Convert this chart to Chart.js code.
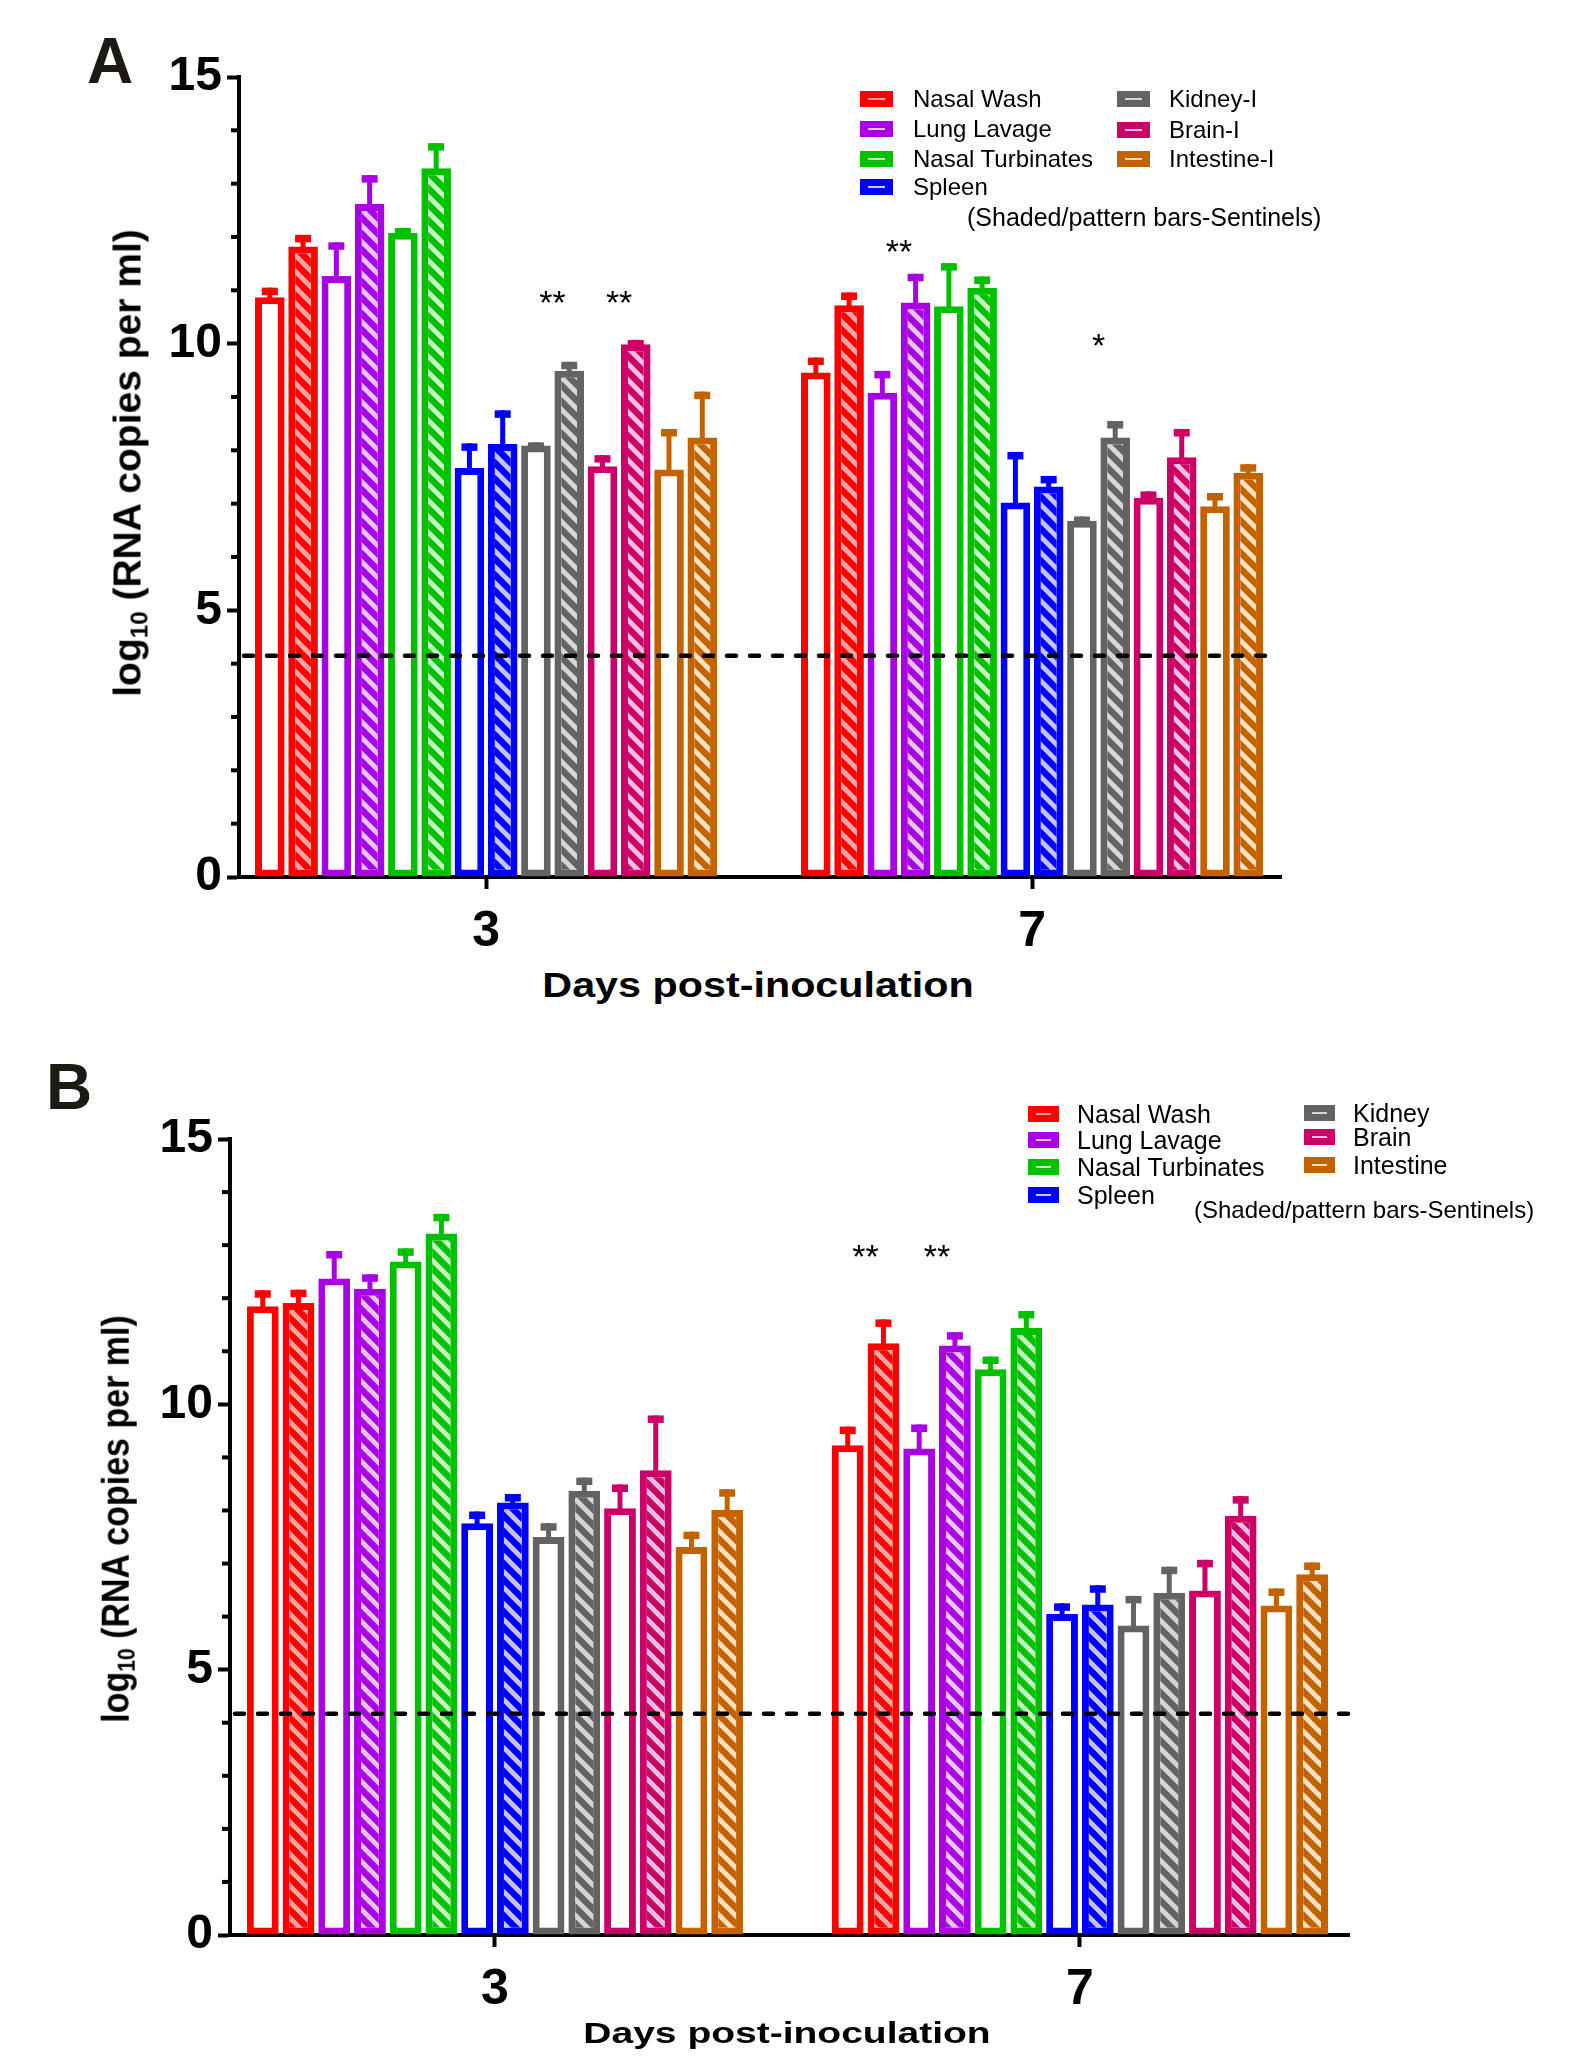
<!DOCTYPE html>
<html lang="en">
<head>
<meta charset="UTF-8" />
<title>Viral RNA in tissues</title>
<script src="https://cdn.jsdelivr.net/npm/chart.js@4"></script>
<style>
  body { margin: 0; background: #fff; font-family: "Liberation Sans", Arial, sans-serif; }
  #page { position: relative; width: 1581px; height: 2056px; overflow: hidden; }
  canvas { position: absolute; left: 0; }
  .txt { position: absolute; line-height: 1; white-space: nowrap; color: #000; }
  .sw { position: absolute; height: 16px; }
  .sw i { position: absolute; left: 8px; right: 8px; top: 7px; height: 2px; }
  sub { font-size: 0.62em; vertical-align: -0.28em; line-height: 0; }
</style>
</head>
<body>
<div id="page">
  <canvas id="chartA" width="1581" height="960" style="top:0"></canvas>
  <canvas id="chartB" width="1581" height="960" style="top:1060px"></canvas>
</div>

<script>
  const organs = ['Nasal Wash', 'Lung Lavage', 'Nasal Turbinates', 'Spleen', 'Kidney', 'Brain', 'Intestine'];
  const days = [3, 7];

  // Panel A - log10 RNA copies per ml, mean and SEM, same order as organs
  const aInoc3 = [10.87, 11.27, 12.08, 7.67, 8.09, 7.70, 7.64];
  const aInoc3Sem = [0.18, 0.63, 0.09, 0.46, 0.06, 0.21, 0.76];
  const aSent3 = [11.82, 12.62, 13.29, 8.12, 9.49, 9.99, 8.24];
  const aSent3Sem = [0.22, 0.54, 0.47, 0.63, 0.17, 0.08, 0.86];
  const aInoc7 = [9.46, 9.08, 10.70, 7.02, 6.68, 7.11, 6.95];
  const aInoc7Sem = [0.28, 0.41, 0.81, 0.95, 0.08, 0.12, 0.25];
  const aSent7 = [10.72, 10.77, 11.05, 7.32, 8.24, 7.87, 7.58];
  const aSent7Sem = [0.24, 0.54, 0.21, 0.20, 0.31, 0.53, 0.16];
  const aLod = 4.15;
  // [day, organ index, marker, level]
  const aStars = [[3, 4, '**', 10.93], [3, 5, '**', 10.93], [7, 1, '**', 11.89], [7, 4, '*', 10.13]];
  const aLegend = ['Nasal Wash', 'Lung Lavage', 'Nasal Turbinates', 'Spleen', 'Kidney-I', 'Brain-I', 'Intestine-I'];

  // Panel B
  const bInoc3 = [11.85, 12.37, 12.69, 7.76, 7.50, 8.04, 7.31];
  const bInoc3Sem = [0.30, 0.52, 0.25, 0.22, 0.26, 0.45, 0.29];
  const bSent3 = [11.91, 12.18, 13.22, 8.15, 8.37, 8.76, 8.01];
  const bSent3Sem = [0.25, 0.27, 0.37, 0.16, 0.25, 1.03, 0.39];
  const bInoc7 = [9.23, 9.17, 10.66, 6.05, 5.83, 6.49, 6.21];
  const bInoc7Sem = [0.35, 0.45, 0.24, 0.20, 0.56, 0.58, 0.32];
  const bSent7 = [11.15, 11.11, 11.44, 6.23, 6.45, 7.90, 6.80];
  const bSent7Sem = [0.45, 0.25, 0.32, 0.36, 0.49, 0.37, 0.22];
  const bLod = 4.17;
  const bStars = [[7, 0, '**', 12.95], [7, 1, '**', 12.95]];
  const bLegend = ['Nasal Wash', 'Lung Lavage', 'Nasal Turbinates', 'Spleen', 'Kidney', 'Brain', 'Intestine'];

  const yTicks = [0, 5, 10, 15];

  const organColors = ['#ff0000', '#aa00e4', '#00c000', '#0000ff', '#636363', '#cc0066', '#c46200'];
  const organTints = ['#ffa3a3', '#e9c6f7', '#c6f7c6', '#c4c4ff', '#d6d6d6', '#ffc2de', '#ffe2c2'];

  const FONT = '"Liberation Sans", Arial, sans-serif';
  Chart.defaults.font.family = FONT;

  function hatch(color, tint) {
    const n = 16;
    const c = document.createElement('canvas');
    c.width = c.height = n;
    const g = c.getContext('2d');
    g.fillStyle = tint;
    g.fillRect(0, 0, n, n);
    g.strokeStyle = color;
    g.lineWidth = 6.5;
    [-n, 0, n].forEach(o => {
      g.beginPath();
      g.moveTo(o - 4, -4);
      g.lineTo(o + n + 4, n + 4);
      g.stroke();
    });
    return g.createPattern(c, 'repeat');
  }

  function makeDatasets(inoc3, inoc3Sem, sent3, sent3Sem, inoc7, inoc7Sem, sent7, sent7Sem) {
    const sets = [];
    organs.forEach((o, k) => {
      sets.push({
        label: o + ' (inoculated)',
        data: [{ x: days[0], y: inoc3[k] }, { x: days[1], y: inoc7[k] }],
        sem: [inoc3Sem[k], inoc7Sem[k]],
        backgroundColor: '#ffffff',
        borderColor: organColors[k]
      });
      sets.push({
        label: o + ' (sentinel)',
        data: [{ x: days[0], y: sent3[k] }, { x: days[1], y: sent7[k] }],
        sem: [sent3Sem[k], sent7Sem[k]],
        backgroundColor: hatch(organColors[k], organTints[k]),
        borderColor: organColors[k]
      });
    });
    return sets;
  }

  // dashed detection limit, SEM bars, minor ticks and significance stars
  function extras(lod, lodEnd, stars) {
    return {
      id: 'extras',
      afterDatasetsDraw(chart) {
        const ctx = chart.ctx;
        const x = chart.scales.x, y = chart.scales.y;
        const area = chart.chartArea;

        ctx.save();
        ctx.strokeStyle = '#000';
        ctx.lineWidth = 4.5;
        ctx.lineCap = 'round';
        ctx.setLineDash([9, 14]);
        ctx.beginPath();
        ctx.moveTo(area.left + 5, y.getPixelForValue(lod));
        ctx.lineTo(x.getPixelForValue(lodEnd), y.getPixelForValue(lod));
        ctx.stroke();
        ctx.restore();

        chart.data.datasets.forEach((ds, i) => {
          chart.getDatasetMeta(i).data.forEach((bar, j) => {
            const top = y.getPixelForValue(ds.data[j].y + ds.sem[j]);
            ctx.fillStyle = ds.borderColor;
            ctx.fillRect(bar.x - 2.5, top, 5, bar.y - top + 2);
            ctx.fillRect(bar.x - 8, top, 16, 7.5);
          });
        });

        ctx.fillStyle = '#000';
        for (let v = 1; v < 15; v++) {
          if (v % 5 === 0) continue;
          ctx.fillRect(area.left - 8, y.getPixelForValue(v) - 2, 8, 4);
        }

        ctx.font = '34px ' + FONT;
        ctx.textAlign = 'center';
        ctx.textBaseline = 'alphabetic';
        stars.forEach(([day, k, mark, level]) => {
          const d = days.indexOf(day);
          const px = (chart.getDatasetMeta(2 * k).data[d].x + chart.getDatasetMeta(2 * k + 1).data[d].x) / 2;
          ctx.fillText(mark, px, y.getPixelForValue(level) + 20);
        });
      }
    };
  }

  function drawPanel(id, datasets, p) {
    return new Chart(document.getElementById(id), {
      type: 'bar',
      data: { datasets },
      options: {
        responsive: false,
        animation: false,
        devicePixelRatio: 1,
        layout: { padding: { top: p.top, right: p.right, left: 0, bottom: 0 } },
        datasets: {
          bar: {
            categoryPercentage: p.catPct,
            barPercentage: 0.89,
            borderWidth: 7,
            borderSkipped: false
          }
        },
        plugins: { legend: { display: false }, tooltip: { enabled: false } },
        scales: {
          x: {
            type: 'linear',
            min: p.xMin,
            max: p.xMax,
            offset: false,
            afterBuildTicks: s => { s.ticks = days.map(v => ({ value: v })); },
            afterFit: s => { s.height = p.xHeight; },
            grid: { drawOnChartArea: false, offset: false, tickLength: 12, tickWidth: 4, tickColor: '#000' },
            border: { color: '#000', width: 4 },
            ticks: { color: '#000', padding: 13, font: { size: 50, weight: 'bold' } }
          },
          y: {
            min: 0,
            max: 15,
            afterBuildTicks: s => { s.ticks = yTicks.map(v => ({ value: v })); },
            afterFit: s => { s.width = p.yWidth; },
            grid: { drawOnChartArea: false, tickLength: 12, tickWidth: 4, tickColor: '#000' },
            border: { color: '#000', width: 4 },
            ticks: { color: '#000', padding: 5, font: { size: 48, weight: 'bold' } }
          }
        }
      },
      plugins: [extras(p.lod, p.lodEnd, p.stars)]
    });
  }

  drawPanel('chartA',
    makeDatasets(aInoc3, aInoc3Sem, aSent3, aSent3Sem, aInoc7, aInoc7Sem, aSent7, aSent7Sem),
    { top: 77, right: 300, yWidth: 239, xHeight: 83, xMin: 1.19, xMax: 8.824, catPct: 0.853,
      lod: aLod, lodEnd: 8.71, stars: aStars });

  drawPanel('chartB',
    makeDatasets(bInoc3, bInoc3Sem, bSent3, bSent3Sem, bInoc7, bInoc7Sem, bSent7, bSent7Sem),
    { top: 79, right: 232, yWidth: 230, xHeight: 85, xMin: 1.188, xMax: 8.84, catPct: 0.855,
      lod: bLod, lodEnd: 8.84, stars: bStars });

  // html text: panel letters, axis titles, legends
  const page = document.getElementById('page');

  function text(html, x, capMid, size, o = {}) {
    const el = document.createElement('div');
    el.className = 'txt';
    el.innerHTML = html;
    el.style.fontSize = size + 'px';
    el.style.fontWeight = o.bold ? 'bold' : 'normal';
    if (o.color) el.style.color = o.color;
    el.style.left = x + 'px';
    el.style.top = (capMid - 0.4885 * size) + 'px';
    const sx = o.sx || 1;
    if (o.center) {
      el.style.transform = `translateX(-50%) scaleX(${sx})`;
    } else {
      el.style.transformOrigin = '0 0';
      el.style.transform = `scaleX(${sx})`;
    }
    page.appendChild(el);
    return el;
  }

  function yTitle(cx, cy, size, sy) {
    const el = document.createElement('div');
    el.className = 'txt';
    el.style.fontWeight = 'bold';
    el.style.fontSize = size + 'px';
    el.style.left = cx + 'px';
    el.style.top = cy + 'px';
    el.style.transform = `translate(-50%, -50%) rotate(-90deg) scaleY(${sy})`;
    el.innerHTML = 'log<sub>10</sub> (RNA copies per ml)';
    page.appendChild(el);
  }

  function swatch(x, capMid, w, k) {
    const el = document.createElement('div');
    el.className = 'sw';
    el.style.left = x + 'px';
    el.style.top = (capMid - 8) + 'px';
    el.style.width = w + 'px';
    el.style.background = organColors[k];
    const line = document.createElement('i');
    line.style.background = organTints[k];
    el.appendChild(line);
    page.appendChild(el);
  }

  function legend(labels, col1, col2, rows1, rows2, swW, size) {
    labels.forEach((lab, k) => {
      const col = k < 4 ? col1 : col2;
      const row = k < 4 ? rows1[k] : rows2[k - 4];
      swatch(col[0], row, swW, k);
      text(lab, col[1], row, size);
    });
  }

  text('A', 87, 60, 64, { bold: true, color: '#1d1a13' });
  yTitle(127, 463, 39, 1);
  text('Days post-inoculation', 758, 984.5, 35, { bold: true, center: true, sx: 1.18 });
  legend(aLegend, [860, 913], [1117, 1169], [98.5, 128.5, 158.5, 186.5], [98.5, 130, 158.5], 33, 24);
  text('(Shaded/pattern bars-Sentinels)', 967, 217, 25);

  text('B', 46, 1086.5, 64, { bold: true, color: '#1d1a13' });
  yTitle(115, 1519, 34, 1.12);
  text('Days post-inoculation', 787, 2033, 30, { bold: true, center: true, sx: 1.3 });
  legend(bLegend, [1028, 1077], [1304, 1353], [1114, 1140, 1167, 1195], [1113, 1137, 1165], 31, 25);
  text('(Shaded/pattern bars-Sentinels)', 1194, 1210, 24);
</script>
</body>
</html>
